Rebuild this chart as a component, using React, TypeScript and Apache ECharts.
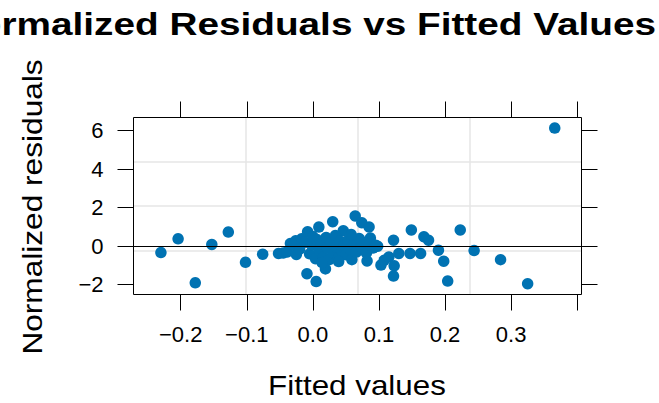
import React, { useEffect, useRef } from "react";
import * as echarts from "echarts";

// Fitted values (x) and normalized residuals (y)
const fittedValues = [
  -0.230, -0.204, -0.178, -0.153, -0.128, -0.102, -0.076, -0.052, -0.045, -0.039,
  -0.034, -0.026, -0.017, -0.025, -0.008, -0.009, 0.005, 0.009, 0.030, 0.019,
  0.046, 0.064, 0.074, 0.085, 0.087, 0.098, 0.082, 0.103, 0.108, 0.115,
  0.122, 0.123, 0.122, 0.130, 0.149, 0.147, 0.163, 0.168, 0.175, 0.190,
  0.198, 0.204, 0.223, 0.244, 0.284, 0.325, 0.366,
  -0.030, -0.020, -0.012, -0.005, -0.002, 0.004, 0.006, 0.010, 0.013, 0.016,
  0.020, 0.022, 0.025, 0.028, 0.031, 0.034, 0.036, 0.039, 0.041, 0.044,
  0.047, 0.050, 0.053, 0.056, 0.059, 0.062, 0.066, 0.070, 0.073, 0.077,
  0.081, 0.086, 0.091, 0.095, 0.039, 0.014, 0.000, 0.058,
];
const residuals = [
  -0.33, 0.38, -1.90, 0.09, 0.73, -0.84, -0.42, -0.38, -0.35, -0.30,
  0.14, 0.28, 0.38, -0.43, 0.75, -1.43, -1.84, 0.99, 1.27, -1.18,
  0.80, 1.57, 1.22, 1.00, 0.42, 0.00, -0.77, -0.98, -0.73, -0.56,
  0.31, -1.02, -1.55, -0.38, 0.84, -0.38, -0.38, 0.49, 0.31, -0.21,
  -0.78, -1.81, 0.84, -0.23, -0.70, -1.95, 6.13,
  0.05, -0.15, 0.20, -0.40, 0.05, -0.65, 0.35, -0.20, 0.10, -0.55,
  0.45, -0.10, -0.70, 0.20, -0.35, 0.55, -0.05, -0.60, 0.25, -0.25,
  0.05, -0.45, 0.30, -0.15, -0.70, 0.10, -0.30, 0.40, -0.05, 0.20,
  -0.35, 0.10, -0.10, 0.05, -0.80, -0.85, 0.50, 0.60,
];

const xTicks = [-0.2, -0.1, 0.0, 0.1, 0.2, 0.3, 0.4];
const xTickLabels = [-0.2, -0.1, 0.0, 0.1, 0.2, 0.3];
const yTicks = [-2, 0, 2, 4, 6];
const xRange = [-0.2715, 0.4065];
const yRange = [-2.51, 6.68];

const titleText = "Normalized Residuals vs Fitted Values";
const xTitle = "Fitted values";
const yTitle = "Normalized residuals";

const FONT = "'Liberation Sans', Arial, Helvetica, sans-serif";

export default function App() {
  const ref = useRef<HTMLDivElement>(null);

  useEffect(() => {
    document.body.style.margin = "0";
    const chart = echarts.init(ref.current!, null, { renderer: "svg" });
    const points = fittedValues.map((x, i) => [x, residuals[i]]);
    const fmtX = (v: number) => v.toFixed(1).replace("-", "\u2212");
    const fmtY = (v: number) => String(v).replace("-", "\u2212");
    const tick = { show: true, inside: false, length: 16, lineStyle: { color: "#000", width: 1 } };
    const hiddenLine = { show: false, onZero: false };
    const quarterGrid = {
      show: true,
      showMinLine: false,
      showMaxLine: false,
      lineStyle: { color: "#e6e6e6", width: 1.5 },
    };

    chart.setOption({
      animation: false,
      backgroundColor: "#fff",
      textStyle: { fontFamily: FONT },
      grid: {
        left: 133.5,
        top: 117.5,
        right: 77.5,
        bottom: 108.5,
        show: true,
        borderColor: "#000",
        borderWidth: 1,
        backgroundColor: "transparent",
        containLabel: false,
        z: 3,
      },
      xAxis: [
        {
          type: "value",
          position: "bottom",
          min: xRange[0],
          max: xRange[1],
          axisLine: hiddenLine,
          axisTick: { ...tick, customValues: xTicks },
          axisLabel: {
            show: true,
            customValues: xTickLabels,
            formatter: fmtX,
            color: "#000",
            fontSize: 22,
            fontFamily: FONT,
            margin: 29,
          },
          splitLine: { show: false },
        },
        {
          type: "value",
          position: "top",
          min: xRange[0],
          max: xRange[1],
          axisLine: hiddenLine,
          axisTick: { ...tick, customValues: xTicks },
          axisLabel: { show: false, customValues: xTicks },
          splitLine: { show: false },
        },
        {
          type: "value",
          position: "bottom",
          min: 0,
          max: 4,
          interval: 1,
          axisLine: hiddenLine,
          axisTick: { show: false },
          axisLabel: { show: false },
          splitLine: quarterGrid,
        },
      ],
      yAxis: [
        {
          type: "value",
          position: "left",
          min: yRange[0],
          max: yRange[1],
          axisLine: hiddenLine,
          axisTick: { ...tick, customValues: yTicks },
          axisLabel: {
            show: true,
            customValues: yTicks,
            formatter: fmtY,
            color: "#000",
            fontSize: 22,
            fontFamily: FONT,
            margin: 30,
            padding: [5, 0, 0, 0],
          },
          splitLine: { show: false },
        },
        {
          type: "value",
          position: "right",
          min: yRange[0],
          max: yRange[1],
          axisLine: hiddenLine,
          axisTick: { ...tick, customValues: yTicks },
          axisLabel: { show: false, customValues: yTicks },
          splitLine: { show: false },
        },
        {
          type: "value",
          position: "left",
          min: 0,
          max: 4,
          interval: 1,
          axisLine: hiddenLine,
          axisTick: { show: false },
          axisLabel: { show: false },
          splitLine: quarterGrid,
        },
      ],
      series: [
        {
          type: "scatter",
          xAxisIndex: 0,
          yAxisIndex: 0,
          data: points,
          symbol: "circle",
          symbolSize: 11.5,
          itemStyle: { color: "#0072B2", opacity: 1 },
          markLine: {
            silent: true,
            symbol: ["none", "none"],
            label: { show: false },
            lineStyle: { color: "#000", width: 1.2, type: "solid" },
            data: [{ yAxis: 0 }],
          },
        },
      ],
      graphic: [
        {
          type: "text",
          x: 656,
          y: 24,
          scaleX: 1.25,
          style: {
            text: titleText,
            textAlign: "right",
            textVerticalAlign: "middle",
            font: `bold 31px ${FONT}`,
            fill: "#000",
          },
        },
        {
          type: "text",
          x: 357,
          y: 385,
          scaleX: 1.12,
          style: {
            text: xTitle,
            textAlign: "center",
            textVerticalAlign: "middle",
            font: `28px ${FONT}`,
            fill: "#000",
          },
        },
        {
          type: "text",
          x: 32,
          y: 207,
          rotation: Math.PI / 2,
          scaleX: 1.13,
          style: {
            text: yTitle,
            textAlign: "center",
            textVerticalAlign: "middle",
            font: `28px ${FONT}`,
            fill: "#000",
          },
        },
      ],
    });

    return () => chart.dispose();
  }, []);

  return <div ref={ref} style={{ width: 659, height: 403 }} />;
}
